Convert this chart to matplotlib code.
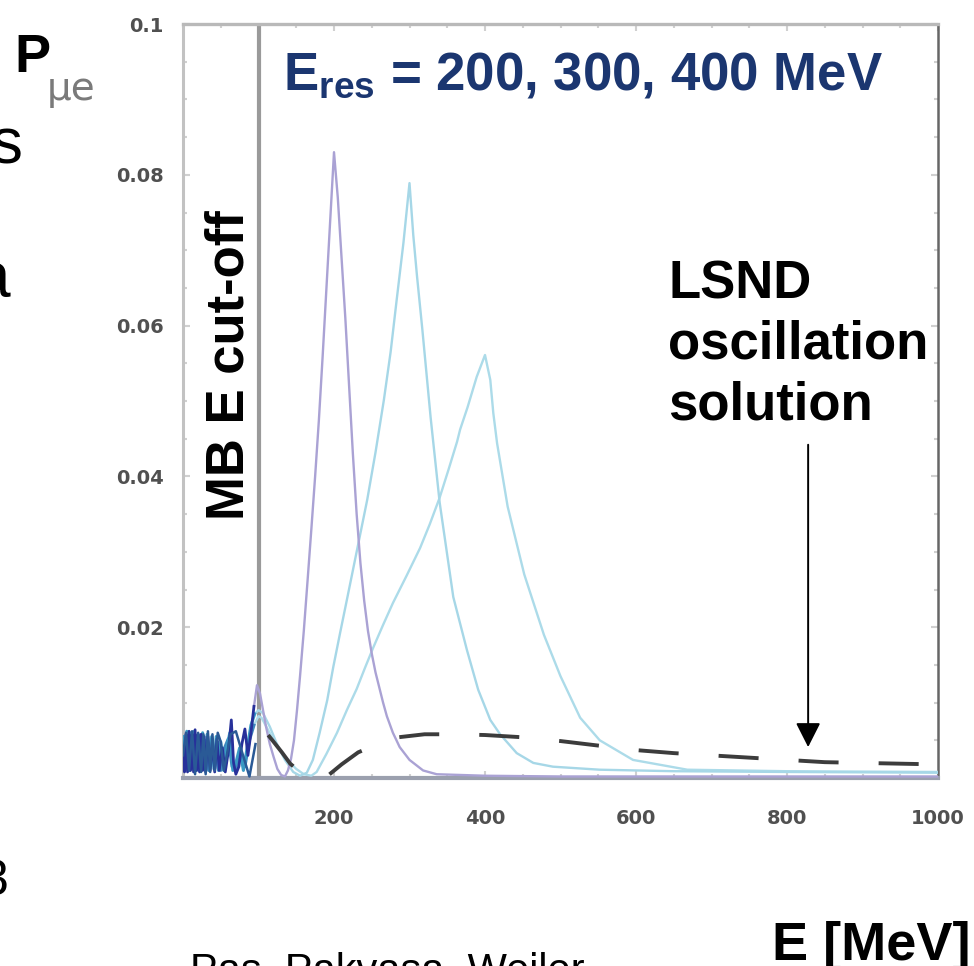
import matplotlib
matplotlib.use("Agg")
import matplotlib.pyplot as plt
from matplotlib import font_manager as fm
from matplotlib.ticker import FixedLocator, FixedFormatter, MultipleLocator

# ---------------- data ----------------
# Eres = 200 MeV resonance curve (lavender); low-energy oscillating part separate
p200_low_E = [0, 2, 4, 6, 8, 10, 12, 14, 16, 18, 20, 22, 24, 26, 28, 30, 33, 36, 39, 42,
              45, 48, 52, 56, 60, 64, 67, 70, 74, 78, 82, 86, 90, 94]
p200_low_P = [0.0040, 0.0008, 0.0058, 0.0008, 0.0062, 0.0010, 0.0058, 0.0008, 0.0064, 0.0010,
              0.0058, 0.0008, 0.0058, 0.0010, 0.0055, 0.0008, 0.0055, 0.0010, 0.0050, 0.0008,
              0.0052, 0.0010, 0.0040, 0.0008, 0.0035, 0.0077, 0.0020, 0.0005, 0.0015, 0.0045,
              0.0065, 0.0030, 0.0060, 0.0095]
p200_E = [94, 98, 102, 106, 110, 115, 120, 125, 130, 135, 139, 143, 147, 151, 155, 160, 165,
          170, 175, 180, 185, 190, 195, 200, 205, 210, 215, 220, 225, 230, 235, 240, 245, 250,
          255, 260, 265, 270, 278, 287, 300, 318, 336, 400, 500, 600, 700, 800, 900, 1000]
p200_P = [0.0095, 0.0123, 0.0112, 0.0090, 0.0068, 0.0045, 0.0028, 0.0012, 0.0004, 0.0002,
          0.0010, 0.0025, 0.0050, 0.0090, 0.0135, 0.0195, 0.0262, 0.0330, 0.0400, 0.0475,
          0.0560, 0.0650, 0.0740, 0.0830, 0.0770, 0.0690, 0.0610, 0.0520, 0.0430, 0.0350,
          0.0285, 0.0235, 0.0195, 0.0165, 0.0140, 0.0120, 0.0100, 0.0082, 0.0060, 0.0041,
          0.0024, 0.0010, 0.0005, 0.0003, 0.0002, 0.0002, 0.0002, 0.0002, 0.0002, 0.0002]

# Eres = 300 MeV resonance curve (light blue)
p300_low_E = [0, 2.5, 5, 7.5, 10, 12.5, 15, 17.5, 20, 23, 26, 29, 32, 35, 38, 41, 44, 47, 50,
              54, 58, 62, 66, 70, 75, 80, 85, 90, 95]
p300_low_P = [0.0055, 0.0010, 0.0062, 0.0010, 0.0060, 0.0012, 0.0062, 0.0010, 0.0058, 0.0010,
              0.0060, 0.0012, 0.0058, 0.0010, 0.0055, 0.0012, 0.0055, 0.0010, 0.0048, 0.0010,
              0.0040, 0.0060, 0.0010, 0.0020, 0.0040, 0.0010, 0.0040, 0.0070, 0.0085]
p300_E = [95, 100, 106, 115, 124, 135, 146, 155, 164, 172, 181, 191, 199, 208, 217, 230, 244,
          255, 266, 275, 283, 292, 300, 305, 310, 317, 328, 340, 358, 376, 391, 407, 420, 442,
          464, 490, 552, 650, 800, 1000]
p300_P = [0.0085, 0.0090, 0.0086, 0.0068, 0.0046, 0.0024, 0.0008, 0.0003, 0.0007, 0.0024,
          0.0060, 0.0103, 0.0147, 0.0192, 0.0236, 0.0300, 0.0369, 0.0432, 0.0501, 0.0565,
          0.0634, 0.0710, 0.0789, 0.0720, 0.0665, 0.0595, 0.0478, 0.0365, 0.0240, 0.0170,
          0.0117, 0.0077, 0.0058, 0.0033, 0.0020, 0.0015, 0.0011, 0.0009, 0.0008, 0.0007]

# Eres = 400 MeV resonance curve (light blue)
p400_low_E = [0, 3, 6, 9, 12, 15, 18, 21, 24, 27, 30, 34, 38, 42, 46, 50, 55, 60, 65, 70,
              76, 82, 88, 94]
p400_low_P = [0.0035, 0.0012, 0.0055, 0.0010, 0.0052, 0.0012, 0.0050, 0.0010, 0.0052, 0.0012,
              0.0050, 0.0010, 0.0052, 0.0012, 0.0048, 0.0010, 0.0040, 0.0052, 0.0015, 0.0010,
              0.0030, 0.0015, 0.0050, 0.0070]
p400_E = [94, 100, 104, 112, 120, 130, 140, 150, 160, 170, 177, 190, 204, 217, 230, 241, 252,
          265, 278, 296, 314, 327, 340, 352, 363, 367, 377, 389, 400, 407, 411, 416, 430, 452,
          478, 500, 526, 552, 596, 668, 800, 1000]
p400_P = [0.0070, 0.0082, 0.0080, 0.0065, 0.0050, 0.0035, 0.0022, 0.0012, 0.0005, 0.0003,
          0.0008, 0.0032, 0.0060, 0.0090, 0.0118, 0.0146, 0.0173, 0.0203, 0.0232, 0.0268,
          0.0305, 0.0337, 0.0372, 0.0410, 0.0446, 0.0462, 0.0492, 0.0532, 0.0561, 0.0528,
          0.0484, 0.0444, 0.0360, 0.0270, 0.0190, 0.0135, 0.0080, 0.0050, 0.0024, 0.0011,
          0.0009, 0.0008]

# LSND oscillation solution (dashed dark line)
lsnd_low_E = [0, 4, 8, 12, 16, 20, 24, 27, 30, 33, 36, 39, 42, 46, 50, 54, 58, 63, 70, 78,
              88, 96]
lsnd_low_P = [0.0030, 0.0060, 0.0010, 0.0062, 0.0005, 0.0060, 0.0008, 0.0058, 0.0005, 0.0062,
              0.0008, 0.0058, 0.0010, 0.0060, 0.0048, 0.0010, 0.0030, 0.0058, 0.0062, 0.0035,
              0.0002, 0.0045]
lsnd_E = [104, 112, 120, 131, 142, 155, 175, 193, 210, 232, 260, 285, 320, 360, 400, 450,
          500, 550, 600, 650, 700, 750, 800, 850, 900, 950, 1000]
lsnd_P = [0.0063, 0.0058, 0.0048, 0.0034, 0.0019, 0.0008, 0.0000, 0.0004, 0.0018, 0.0034,
          0.0046, 0.0054, 0.0058, 0.0058, 0.0057, 0.0054, 0.0049, 0.0043, 0.0037, 0.0033,
          0.0030, 0.0027, 0.0024, 0.0021, 0.0020, 0.0019, 0.0018]

cutoff_E = 100
arrow_E = 828
arrow_tip_P = 0.0041
arrow_tail_P = 0.0442

x_ticks = [200, 400, 600, 800, 1000]
x_tick_labels = ["200", "400", "600", "800", "1000"]
y_ticks = [0.02, 0.04, 0.06, 0.08, 0.1]
y_tick_labels = ["0.02", "0.04", "0.06", "0.08", "0.1"]

title_text = r"E$_{\mathrm{res}}$ = 200, 300, 400 MeV"
cutoff_text = "MB E cut-off"
lsnd_text = "LSND\noscillation\nsolution"
ylabel_main = "P"
ylabel_sub = "\u03bce"
xlabel_text = "E [MeV]"
authors_text = "Pas, Pakvasa, Weiler"

# ---------------- style ----------------
names = {f.name for f in fm.fontManager.ttflist}
NARROW = "Liberation Sans Narrow" if "Liberation Sans Narrow" in names else "DejaVu Sans"
SANS = "Liberation Sans"
plt.rcParams["font.family"] = [SANS, "DejaVu Sans"]
plt.rcParams["mathtext.fontset"] = "custom"
plt.rcParams["mathtext.rm"] = "Liberation Sans:bold"
plt.rcParams["mathtext.it"] = "Liberation Sans:bold"
plt.rcParams["mathtext.bf"] = "Liberation Sans:bold"

W, H = 974, 966
fig = plt.figure(figsize=(W / 100, H / 100), dpi=100)
fig.patch.set_facecolor("white")
ax = fig.add_axes([183 / W, 1 - 778 / H, (938 - 183) / W, (778 - 24) / H])


def fx(px):
    return px / W


def fy(py):
    return 1 - py / H


C200 = "#aaa2d4"
C300 = "#a6d7e7"
C400 = "#acdbe9"

ax.plot(p400_E, p400_P, color=C400, lw=1.7, zorder=3)
ax.plot(p300_E, p300_P, color=C300, lw=1.7, zorder=3)
ax.plot(p200_E, p200_P, color=C200, lw=1.7, zorder=4)
ax.plot(p400_low_E, p400_low_P, color="#3f86bd", lw=2.2, zorder=4)
ax.plot(p300_low_E, p300_low_P, color="#3a9ac4", lw=2.2, zorder=4)
ax.plot(p200_low_E, p200_low_P, color="#27309a", lw=2.0, zorder=5)
ax.plot(lsnd_low_E, lsnd_low_P, color="#2a5a96", lw=1.8, zorder=5)
ax.plot(lsnd_E, lsnd_P, color="#3c3c3c", lw=2.8, zorder=6,
        linestyle=(18.5, (10.3, 10.3)), dash_capstyle="butt")

ax.axvline(cutoff_E, color="#9a9a9a", lw=3.0, zorder=2)

ax.annotate("", xy=(arrow_E, arrow_tip_P), xytext=(arrow_E, arrow_tail_P),
            arrowprops=dict(arrowstyle="-|>,head_length=0.75,head_width=0.38",
                            mutation_scale=20, lw=1.4, color="black",
                            shrinkA=0, shrinkB=0), zorder=7)

ax.set_xlim(0, 1000)
ax.set_ylim(0, 0.1)

ax.xaxis.set_major_locator(FixedLocator(x_ticks))
ax.xaxis.set_major_formatter(FixedFormatter(x_tick_labels))
ax.yaxis.set_major_locator(FixedLocator(y_ticks))
ax.yaxis.set_major_formatter(FixedFormatter(y_tick_labels))
ax.xaxis.set_minor_locator(MultipleLocator(50))
ax.yaxis.set_minor_locator(MultipleLocator(0.005))
ax.tick_params(which="both", direction="in", top=True, right=True,
               color="#d0d0d0", width=1.5)
ax.tick_params(which="major", length=5)
ax.tick_params(which="minor", length=3)
ax.tick_params(axis="x", which="major", pad=22, labelsize=14, labelcolor="#505050")
ax.tick_params(axis="y", which="major", pad=14, labelsize=14, labelcolor="#505050")
for lab in ax.get_xticklabels() + ax.get_yticklabels():
    lab.set_family([NARROW, "DejaVu Sans"])
    lab.set_fontweight("bold")

ax.spines["left"].set_color("#c2c2c2")
ax.spines["left"].set_linewidth(2.2)
ax.spines["top"].set_color("#b9b9b9")
ax.spines["top"].set_linewidth(2.4)
ax.spines["right"].set_color("#666666")
ax.spines["right"].set_linewidth(1.8)
ax.spines["bottom"].set_color("#9ba0ae")
ax.spines["bottom"].set_linewidth(3.0)

# ---------------- texts ----------------
fig.text(fx(283), fy(90), title_text, fontsize=38, fontweight="bold",
         color="#1b3670", ha="left", va="baseline")
fig.text(fx(229), fy(365), cutoff_text, fontsize=38, fontweight="bold",
         color="black", rotation=90, ha="center", va="center")
fig.text(fx(668), fy(259), lsnd_text, fontsize=38, fontweight="bold",
         color="black", ha="left", va="top", linespacing=1.27)
fig.text(fx(14), fy(72), ylabel_main, fontsize=39, fontweight="bold",
         color="black", ha="left", va="baseline")
fig.text(fx(47), fy(100), ylabel_sub, fontsize=28, color="#7a7a7a",
         ha="left", va="baseline", family=[NARROW, "DejaVu Sans"])
fig.text(fx(772), fy(960), xlabel_text, fontsize=39, fontweight="bold",
         color="black", ha="left", va="baseline")
fig.text(fx(190), fy(983), authors_text, fontsize=30, color="black",
         ha="left", va="baseline")
# cut-off fragments of neighbouring slide text at the left edge
fig.text(fx(-10), fy(163), "s", fontsize=46, color="black", ha="left", va="baseline")
fig.text(fx(-26), fy(298), "a", fontsize=46, color="black", ha="left", va="baseline")
fig.text(fx(-20), fy(895), "3", fontsize=36, color="black", ha="left", va="baseline")

fig.savefig("out.png", dpi=100, facecolor="white")
